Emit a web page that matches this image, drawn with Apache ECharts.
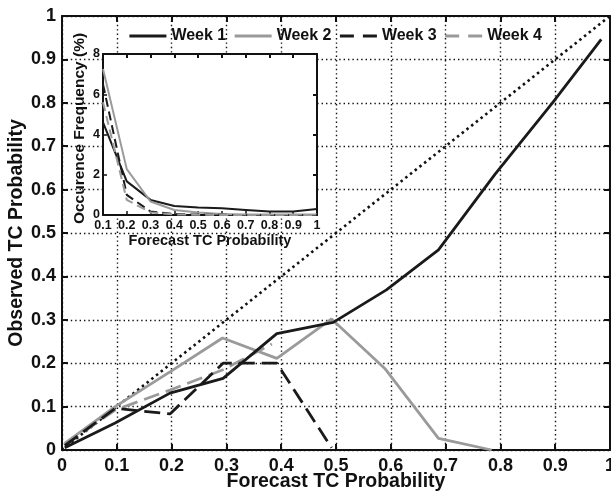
<!DOCTYPE html>
<html>
<head>
<meta charset="utf-8">
<script src="https://cdn.jsdelivr.net/npm/echarts@6/dist/echarts.min.js"></script>
<style>html,body{margin:0;padding:0;background:#fff}#c{width:611px;height:492px}</style>
</head>
<body>
<div id="c"></div>
<script>
// ---- main reliability diagram data ----
const week1X = [0.005, 0.097, 0.197, 0.294, 0.392, 0.495, 0.592, 0.687, 0.79, 0.895, 0.984];
const week1Y = [0.005, 0.062, 0.131, 0.165, 0.268, 0.294, 0.369, 0.461, 0.635, 0.80, 0.946];
const week2X = [0.005, 0.097, 0.197, 0.293, 0.392, 0.492, 0.589, 0.687, 0.784];
const week2Y = [0.015, 0.100, 0.180, 0.258, 0.211, 0.302, 0.188, 0.027, 0.0];
const week3X = [0.005, 0.097, 0.197, 0.294, 0.392, 0.492];
const week3Y = [0.010, 0.096, 0.083, 0.200, 0.200, 0.005];
const week4X = [0.005, 0.097, 0.197, 0.294, 0.383];
const week4Y = [0.012, 0.092, 0.138, 0.185, 0.244];
const diagX = [0, 1];
const diagY = [0, 1];

// ---- inset: occurrence frequency (%) ----
const insetX = [0.1, 0.2, 0.3, 0.4, 0.5, 0.6, 0.7, 0.8, 0.9, 1.0];
const freq1 = [4.6, 1.67, 0.75, 0.45, 0.37, 0.33, 0.25, 0.17, 0.17, 0.30];
const freq2 = [7.25, 2.28, 0.67, 0.25, 0.12, 0.05, 0.03, 0.02, 0.02, 0.02];
const freq3 = [6.5, 1.0, 0.17, 0.05, 0.02, 0.01, 0, 0, 0, 0];
const freq4 = [5.6, 0.75, 0.13, 0.03, 0.01, 0, 0, 0, 0, 0];

const names = ['Week 1', 'Week 2', 'Week 3', 'Week 4'];

const zip = (a, b) => a.map((v, i) => [v, b[i]]);
const FONT = '"Liberation Sans", Arial, Helvetica, sans-serif';
const GRAY = '#9a9a9a';
const fmt = v => (Math.abs(v) < 1e-9 ? '0' : Math.abs(v - 1) < 1e-9 ? '1' : v.toFixed(1));

const styles = [
  { color: '#1a1a1a', type: 'solid' },
  { color: GRAY, type: 'solid' },
  { color: '#1a1a1a', type: [16, 7] },
  { color: GRAY, type: [16, 7] }
];

function frameAxis(pos, gridIndex, min, max, interval, z, tickLen) {
  return {
    type: 'value', gridIndex, position: pos, min, max, interval,
    axisLine: { show: true, onZero: false, lineStyle: { color: '#111', width: 2 } },
    axisTick: { show: true, inside: true, length: tickLen, lineStyle: { color: '#111', width: 2 } },
    axisLabel: { show: false }, splitLine: { show: false }, z
  };
}

const chart = echarts.init(document.getElementById('c'));
const mainData = [zip(week1X, week1Y), zip(week2X, week2Y), zip(week3X, week3Y), zip(week4X, week4Y)];
const insetData = [freq1, freq2, freq3, freq4].map(f => zip(insetX, f));

const series = [];
series.push({
  type: 'line', name: 'diag', xAxisIndex: 0, yAxisIndex: 0, symbol: 'none', silent: true,
  data: zip(diagX, diagY), lineStyle: { color: '#111', width: 2.6, type: [2.5, 3.5] }, z: 3
});
names.forEach((n, i) => {
  series.push({
    type: 'line', name: n, xAxisIndex: 0, yAxisIndex: 0, symbol: 'none',
    data: mainData[i], lineStyle: { color: styles[i].color, width: 2.8, type: styles[i].type },
    itemStyle: { color: styles[i].color }, z: 4 - (i % 2)
  });
});
names.forEach((n, i) => {
  series.push({
    type: 'line', name: n, xAxisIndex: 2, yAxisIndex: 2, symbol: 'none',
    data: insetData[i], lineStyle: { color: styles[i].color, width: 2, type: i >= 2 ? [9, 5] : 'solid' },
    itemStyle: { color: styles[i].color }, z: 14
  });
});

chart.setOption({
  animation: false,
  backgroundColor: '#fff',
  textStyle: { fontFamily: FONT },
  legend: {
    data: names.map((n, i) => ({
      name: n,
      lineStyle: { color: styles[i].color, width: 2.8, type: i >= 2 ? [14, 9] : 'solid' },
      itemStyle: { color: 'rgba(0,0,0,0)', borderWidth: 0, opacity: 0 }
    })),
    left: 123, top: 23, itemWidth: 37, itemHeight: 14, itemGap: 7,
    textStyle: { fontFamily: FONT, fontWeight: 'bold', fontSize: 16, color: '#111' }
  },
  grid: [
    { left: 62, right: 1, top: 16, bottom: 42, z: 0, outerBoundsMode: 'none', containLabel: false },
    { left: 103, top: 54, width: 214, height: 161, show: true, backgroundColor: '#fff', borderWidth: 0, z: 10, outerBoundsMode: 'none', containLabel: false }
  ],
  xAxis: [
    {
      type: 'value', gridIndex: 0, position: 'bottom', min: 0, max: 1, interval: 0.1,
      name: 'Forecast TC Probability', nameLocation: 'middle', nameGap: 22, nameMoveOverlap: false,
      nameTextStyle: { fontFamily: FONT, fontWeight: 'bold', fontSize: 19.5, color: '#111' },
      axisLine: { show: true, onZero: false, lineStyle: { color: '#111', width: 2 } },
      axisTick: { show: true, inside: true, length: 6, lineStyle: { color: '#111', width: 2 } },
      axisLabel: { formatter: fmt, margin: 7, fontFamily: FONT, fontWeight: 'bold', fontSize: 18, color: '#111' },
      splitLine: { show: true, lineStyle: { color: '#111', width: 1.4, type: [1.4, 3] } }
    },
    frameAxis('top', 0, 0, 1, 0.1, 0, 6),
    {
      type: 'value', gridIndex: 1, position: 'bottom', min: 0.1, max: 1, interval: 0.1,
      name: 'Forecast TC Probability', nameLocation: 'middle', nameGap: 18, nameMoveOverlap: false,
      nameTextStyle: { fontFamily: FONT, fontWeight: 'bold', fontSize: 14.5, color: '#111' },
      axisLine: { show: true, onZero: false, lineStyle: { color: '#111', width: 2 } },
      axisTick: { show: true, inside: true, length: 4, lineStyle: { color: '#111', width: 1.5 } },
      axisLabel: { formatter: fmt, margin: 4, fontFamily: FONT, fontWeight: 'bold', fontSize: 12.5, color: '#111' },
      splitLine: { show: false }, z: 12
    },
    frameAxis('top', 1, 0.1, 1, 0.1, 12, 4)
  ],
  yAxis: [
    {
      type: 'value', gridIndex: 0, position: 'left', min: 0, max: 1, interval: 0.1,
      name: 'Observed TC Probability', nameLocation: 'middle', nameGap: 35, nameMoveOverlap: false,
      nameTextStyle: { fontFamily: FONT, fontWeight: 'bold', fontSize: 19.5, color: '#111' },
      axisLine: { show: true, onZero: false, lineStyle: { color: '#111', width: 2 } },
      axisTick: { show: true, inside: true, length: 6, lineStyle: { color: '#111', width: 2 } },
      axisLabel: { formatter: fmt, margin: 6, fontFamily: FONT, fontWeight: 'bold', fontSize: 18, color: '#111' },
      splitLine: { show: true, lineStyle: { color: '#111', width: 1.4, type: [1.4, 3] } }
    },
    frameAxis('right', 0, 0, 1, 0.1, 0, 6),
    {
      type: 'value', gridIndex: 1, position: 'left', min: 0, max: 8, interval: 2,
      name: 'Occurence Frequency (%)', nameLocation: 'middle', nameGap: 15, nameMoveOverlap: false,
      nameTextStyle: { fontFamily: FONT, fontWeight: 'bold', fontSize: 15.5, color: '#111', padding: [0, 0, 0, 12] },
      axisLine: { show: true, onZero: false, lineStyle: { color: '#111', width: 2 } },
      axisTick: { show: true, inside: true, length: 4, lineStyle: { color: '#111', width: 1.5 } },
      axisLabel: { margin: 3, fontFamily: FONT, fontWeight: 'bold', fontSize: 12.5, color: '#111' },
      splitLine: { show: false }, z: 12
    },
    frameAxis('right', 1, 0, 8, 2, 12, 4)
  ],
  series
});
</script>
</body>
</html>
